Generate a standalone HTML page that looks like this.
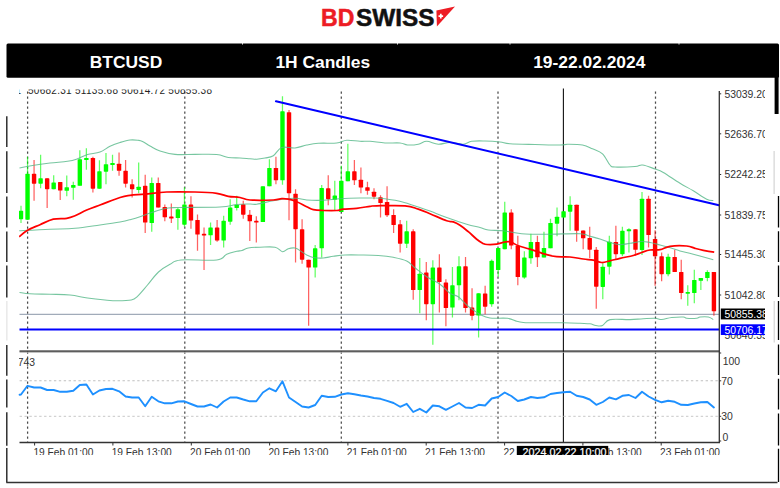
<!DOCTYPE html>
<html><head><meta charset="utf-8"><title>BTCUSD 1H Candles</title>
<style>html,body{margin:0;padding:0;background:#fff}body{width:780px;height:488px;position:relative;overflow:hidden}</style></head>
<body>
<svg width="780" height="488" viewBox="0 0 780 488" style="position:absolute;left:0;top:0">
<defs>
<clipPath id="cm"><rect x="19" y="89.4" width="746" height="262"/></clipPath>
<clipPath id="cb"><rect x="19" y="352" width="746.5" height="103"/></clipPath>
<clipPath id="cc"><rect x="19" y="88" width="700.5" height="264"/></clipPath>
</defs>
<rect x="6.5" y="43.5" width="772.5" height="34.2" rx="1.5" fill="#000"/>
<rect x="242.0" y="43" width="1" height="1.6" fill="#fff" opacity=".8"/>
<rect x="397.0" y="43" width="1" height="1.6" fill="#fff" opacity=".8"/>
<rect x="509.5" y="43" width="1" height="1.6" fill="#fff" opacity=".8"/>
<rect x="678.5" y="43" width="1" height="1.6" fill="#fff" opacity=".8"/>
<g stroke="#000" fill="none">
<path d="M6.8 116.3V147 M6.8 151.3V193 M6.8 196.6V227.5 M6.8 231.6V262 M6.8 265.4V297.4 M6.8 345V375.8 M6.8 379.5V407.5 M6.8 412.3V445.8 M6.8 448V482.5" stroke-width="1.4" stroke="#222"/>
<path d="M6.9 301V340.5" stroke-width="1" stroke="#ddd"/>
<path d="M6.3 482.6H777.5" stroke-width="1.5" stroke="#333"/>
<path d="M776.6 77V114" stroke-width="4"/>
<path d="M774.1 151V194 M774.2 301V342.5" stroke-width="1" stroke="#ccc"/>
<path d="M778.5 196V227.5 M778.5 231.2V262 M778.5 265.5V297 M778.5 301V340 M778.5 344.5V375 M778.5 378.8V409.5 M778.5 413.6V445.5 M778.5 448.8V482" stroke-width="1.3"/>
</g>
<path d="M27.6 91.5V442" stroke="#4a4a4a" stroke-width="1.25" stroke-dasharray="2.3 2.7"/>
<path d="M184.8 91.5V442" stroke="#4a4a4a" stroke-width="1.25" stroke-dasharray="2.3 2.7"/>
<path d="M341.3 91.5V442" stroke="#4a4a4a" stroke-width="1.25" stroke-dasharray="2.3 2.7"/>
<path d="M498.0 91.5V442" stroke="#4a4a4a" stroke-width="1.25" stroke-dasharray="2.3 2.7"/>
<path d="M655.5 91.5V442" stroke="#4a4a4a" stroke-width="1.25" stroke-dasharray="2.3 2.7"/>
<path d="M563.4 88.5V442.5" stroke="#111" stroke-width="1.1"/>
<g clip-path="url(#cc)" fill="none">
<path d="M19.5 314.3H719" stroke="#8a97a8" stroke-width="1"/>
<path d="M21.00 205.8V223.0" stroke="#00ff00" stroke-width="1.25" opacity=".62"/>
<rect x="18.80" y="210.8" width="4.4" height="8.4" fill="#00ff00" rx=".6"/>
<path d="M27.54 156.7V220.0" stroke="#00ff00" stroke-width="1.25" opacity=".62"/>
<rect x="25.34" y="173.8" width="4.4" height="45.9" fill="#00ff00" rx=".6"/>
<path d="M34.07 160.0V200.8" stroke="#ff0000" stroke-width="1.25" opacity=".62"/>
<rect x="31.87" y="173.8" width="4.4" height="9.9" fill="#ff0000" rx=".6"/>
<path d="M40.61 154.7V188.3" stroke="#00ff00" stroke-width="1.25" opacity=".62"/>
<rect x="38.41" y="178.3" width="4.4" height="5.4" fill="#00ff00" rx=".6"/>
<path d="M47.15 178.3V208.0" stroke="#ff0000" stroke-width="1.25" opacity=".62"/>
<rect x="44.95" y="178.3" width="4.4" height="10.9" fill="#ff0000" rx=".6"/>
<path d="M53.69 175.3V189.2" stroke="#00ff00" stroke-width="1.25" opacity=".62"/>
<rect x="51.48" y="182.5" width="4.4" height="6.7" fill="#00ff00" rx=".6"/>
<path d="M60.22 182.0V200.0" stroke="#ff0000" stroke-width="1.25" opacity=".62"/>
<rect x="58.02" y="182.0" width="4.4" height="8.5" fill="#ff0000" rx=".6"/>
<path d="M66.76 175.5V196.3" stroke="#00ff00" stroke-width="1.25" opacity=".62"/>
<rect x="64.56" y="187.2" width="4.4" height="3.6" fill="#00ff00" rx=".6"/>
<path d="M73.30 181.7V199.7" stroke="#00ff00" stroke-width="1.25" opacity=".62"/>
<rect x="71.10" y="185.0" width="4.4" height="2.8" fill="#00ff00" rx=".6"/>
<path d="M79.83 150.3V185.8" stroke="#00ff00" stroke-width="1.25" opacity=".62"/>
<rect x="77.63" y="159.2" width="4.4" height="26.6" fill="#00ff00" rx=".6"/>
<path d="M86.37 148.3V169.7" stroke="#00ff00" stroke-width="1.25" opacity=".62"/>
<rect x="84.17" y="158.0" width="4.4" height="2.0" fill="#00ff00" rx=".6"/>
<path d="M92.91 156.7V192.5" stroke="#ff0000" stroke-width="1.25" opacity=".62"/>
<rect x="90.71" y="158.0" width="4.4" height="30.7" fill="#ff0000" rx=".6"/>
<path d="M99.44 160.3V188.7" stroke="#00ff00" stroke-width="1.25" opacity=".62"/>
<rect x="97.24" y="171.3" width="4.4" height="17.4" fill="#00ff00" rx=".6"/>
<path d="M105.98 153.0V184.2" stroke="#00ff00" stroke-width="1.25" opacity=".62"/>
<rect x="103.78" y="164.2" width="4.4" height="7.5" fill="#00ff00" rx=".6"/>
<path d="M112.52 154.7V170.8" stroke="#00ff00" stroke-width="1.25" opacity=".62"/>
<rect x="110.32" y="163.0" width="4.4" height="2.0" fill="#00ff00" rx=".6"/>
<path d="M119.05 152.5V175.8" stroke="#ff0000" stroke-width="1.25" opacity=".62"/>
<rect x="116.85" y="163.7" width="4.4" height="7.1" fill="#ff0000" rx=".6"/>
<path d="M125.59 160.0V187.5" stroke="#ff0000" stroke-width="1.25" opacity=".62"/>
<rect x="123.39" y="170.8" width="4.4" height="12.9" fill="#ff0000" rx=".6"/>
<path d="M132.13 179.2V197.5" stroke="#ff0000" stroke-width="1.25" opacity=".62"/>
<rect x="129.93" y="184.2" width="4.4" height="5.0" fill="#ff0000" rx=".6"/>
<path d="M138.67 162.5V193.3" stroke="#00ff00" stroke-width="1.25" opacity=".62"/>
<rect x="136.47" y="186.7" width="4.4" height="3.3" fill="#00ff00" rx=".6"/>
<path d="M145.20 174.7V233.0" stroke="#ff0000" stroke-width="1.25" opacity=".62"/>
<rect x="143.00" y="185.8" width="4.4" height="36.7" fill="#ff0000" rx=".6"/>
<path d="M151.74 177.5V231.7" stroke="#00ff00" stroke-width="1.25" opacity=".62"/>
<rect x="149.54" y="183.0" width="4.4" height="40.0" fill="#00ff00" rx=".6"/>
<path d="M158.28 177.5V207.5" stroke="#ff0000" stroke-width="1.25" opacity=".62"/>
<rect x="156.08" y="183.0" width="4.4" height="24.5" fill="#ff0000" rx=".6"/>
<path d="M164.81 204.5V221.3" stroke="#ff0000" stroke-width="1.25" opacity=".62"/>
<rect x="162.61" y="207.0" width="4.4" height="10.3" fill="#ff0000" rx=".6"/>
<path d="M171.35 203.5V223.0" stroke="#ff0000" stroke-width="1.25" opacity=".62"/>
<rect x="169.15" y="216.5" width="4.4" height="2.0" fill="#ff0000" rx=".6"/>
<path d="M177.89 207.7V229.7" stroke="#00ff00" stroke-width="1.25" opacity=".62"/>
<rect x="175.69" y="209.2" width="4.4" height="8.8" fill="#00ff00" rx=".6"/>
<path d="M184.43 187.2V226.7" stroke="#00ff00" stroke-width="1.25" opacity=".62"/>
<rect x="182.23" y="204.5" width="4.4" height="20.2" fill="#00ff00" rx=".6"/>
<path d="M190.96 196.3V228.7" stroke="#ff0000" stroke-width="1.25" opacity=".62"/>
<rect x="188.76" y="204.5" width="4.4" height="16.0" fill="#ff0000" rx=".6"/>
<path d="M197.50 214.5V250.8" stroke="#ff0000" stroke-width="1.25" opacity=".62"/>
<rect x="195.30" y="220.0" width="4.4" height="14.5" fill="#ff0000" rx=".6"/>
<path d="M204.04 227.5V270.0" stroke="#ff0000" stroke-width="1.25" opacity=".62"/>
<rect x="201.84" y="233.8" width="4.4" height="1.7" fill="#ff0000" rx=".6"/>
<path d="M210.57 222.5V245.0" stroke="#00ff00" stroke-width="1.25" opacity=".62"/>
<rect x="208.37" y="227.5" width="4.4" height="7.8" fill="#00ff00" rx=".6"/>
<path d="M217.11 220.0V241.7" stroke="#ff0000" stroke-width="1.25" opacity=".62"/>
<rect x="214.91" y="227.5" width="4.4" height="13.0" fill="#ff0000" rx=".6"/>
<path d="M223.65 215.8V247.5" stroke="#00ff00" stroke-width="1.25" opacity=".62"/>
<rect x="221.45" y="220.8" width="4.4" height="19.7" fill="#00ff00" rx=".6"/>
<path d="M230.18 199.2V224.7" stroke="#00ff00" stroke-width="1.25" opacity=".62"/>
<rect x="227.98" y="207.5" width="4.4" height="14.2" fill="#00ff00" rx=".6"/>
<path d="M236.72 195.8V210.5" stroke="#00ff00" stroke-width="1.25" opacity=".62"/>
<rect x="234.52" y="204.7" width="4.4" height="3.3" fill="#00ff00" rx=".6"/>
<path d="M243.26 200.8V218.7" stroke="#ff0000" stroke-width="1.25" opacity=".62"/>
<rect x="241.06" y="204.2" width="4.4" height="10.5" fill="#ff0000" rx=".6"/>
<path d="M249.79 210.0V241.0" stroke="#ff0000" stroke-width="1.25" opacity=".62"/>
<rect x="247.59" y="214.7" width="4.4" height="6.6" fill="#ff0000" rx=".6"/>
<path d="M256.33 216.3V242.5" stroke="#ff0000" stroke-width="1.25" opacity=".62"/>
<rect x="254.13" y="220.8" width="4.4" height="1.7" fill="#ff0000" rx=".6"/>
<path d="M262.87 186.3V222.0" stroke="#00ff00" stroke-width="1.25" opacity=".62"/>
<rect x="260.67" y="186.3" width="4.4" height="35.7" fill="#00ff00" rx=".6"/>
<path d="M269.41 159.2V186.3" stroke="#00ff00" stroke-width="1.25" opacity=".62"/>
<rect x="267.21" y="168.0" width="4.4" height="18.3" fill="#00ff00" rx=".6"/>
<path d="M275.94 156.7V184.2" stroke="#ff0000" stroke-width="1.25" opacity=".62"/>
<rect x="273.74" y="168.0" width="4.4" height="12.3" fill="#ff0000" rx=".6"/>
<path d="M282.48 96.3V184.7" stroke="#00ff00" stroke-width="1.25" opacity=".62"/>
<rect x="280.28" y="111.3" width="4.4" height="69.0" fill="#00ff00" rx=".6"/>
<path d="M289.02 110.0V220.3" stroke="#ff0000" stroke-width="1.25" opacity=".62"/>
<rect x="286.82" y="112.2" width="4.4" height="81.1" fill="#ff0000" rx=".6"/>
<path d="M295.55 189.2V262.5" stroke="#ff0000" stroke-width="1.25" opacity=".62"/>
<rect x="293.35" y="193.8" width="4.4" height="35.4" fill="#ff0000" rx=".6"/>
<path d="M302.09 219.2V263.7" stroke="#ff0000" stroke-width="1.25" opacity=".62"/>
<rect x="299.89" y="229.2" width="4.4" height="30.5" fill="#ff0000" rx=".6"/>
<path d="M308.63 259.7V325.8" stroke="#ff0000" stroke-width="1.25" opacity=".62"/>
<rect x="306.43" y="259.7" width="4.4" height="7.8" fill="#ff0000" rx=".6"/>
<path d="M315.17 245.0V277.5" stroke="#00ff00" stroke-width="1.25" opacity=".62"/>
<rect x="312.97" y="248.3" width="4.4" height="19.2" fill="#00ff00" rx=".6"/>
<path d="M321.70 185.0V257.5" stroke="#00ff00" stroke-width="1.25" opacity=".62"/>
<rect x="319.50" y="188.0" width="4.4" height="60.3" fill="#00ff00" rx=".6"/>
<path d="M328.24 175.3V205.3" stroke="#ff0000" stroke-width="1.25" opacity=".62"/>
<rect x="326.04" y="188.3" width="4.4" height="10.9" fill="#ff0000" rx=".6"/>
<path d="M334.78 180.8V210.0" stroke="#00ff00" stroke-width="1.25" opacity=".62"/>
<rect x="332.58" y="195.5" width="4.4" height="4.2" fill="#00ff00" rx=".6"/>
<path d="M341.31 165.8V212.0" stroke="#00ff00" stroke-width="1.25" opacity=".62"/>
<rect x="339.11" y="180.8" width="4.4" height="31.2" fill="#00ff00" rx=".6"/>
<path d="M347.85 143.7V181.3" stroke="#00ff00" stroke-width="1.25" opacity=".62"/>
<rect x="345.65" y="171.3" width="4.4" height="10.0" fill="#00ff00" rx=".6"/>
<path d="M354.39 160.0V185.0" stroke="#ff0000" stroke-width="1.25" opacity=".62"/>
<rect x="352.19" y="171.3" width="4.4" height="9.0" fill="#ff0000" rx=".6"/>
<path d="M360.92 167.5V193.3" stroke="#ff0000" stroke-width="1.25" opacity=".62"/>
<rect x="358.72" y="179.7" width="4.4" height="7.8" fill="#ff0000" rx=".6"/>
<path d="M367.46 181.7V194.8" stroke="#ff0000" stroke-width="1.25" opacity=".62"/>
<rect x="365.26" y="187.2" width="4.4" height="3.6" fill="#ff0000" rx=".6"/>
<path d="M374.00 188.3V199.2" stroke="#ff0000" stroke-width="1.25" opacity=".62"/>
<rect x="371.80" y="191.7" width="4.4" height="5.0" fill="#ff0000" rx=".6"/>
<path d="M380.53 195.3V217.5" stroke="#ff0000" stroke-width="1.25" opacity=".62"/>
<rect x="378.33" y="197.2" width="4.4" height="5.8" fill="#ff0000" rx=".6"/>
<path d="M387.07 186.3V217.0" stroke="#ff0000" stroke-width="1.25" opacity=".62"/>
<rect x="384.87" y="202.0" width="4.4" height="13.3" fill="#ff0000" rx=".6"/>
<path d="M393.61 209.2V233.0" stroke="#ff0000" stroke-width="1.25" opacity=".62"/>
<rect x="391.41" y="215.0" width="4.4" height="10.0" fill="#ff0000" rx=".6"/>
<path d="M400.15 220.0V252.5" stroke="#ff0000" stroke-width="1.25" opacity=".62"/>
<rect x="397.95" y="224.2" width="4.4" height="19.5" fill="#ff0000" rx=".6"/>
<path d="M406.68 220.8V248.0" stroke="#00ff00" stroke-width="1.25" opacity=".62"/>
<rect x="404.48" y="231.3" width="4.4" height="12.4" fill="#00ff00" rx=".6"/>
<path d="M413.22 229.2V299.7" stroke="#ff0000" stroke-width="1.25" opacity=".62"/>
<rect x="411.02" y="231.3" width="4.4" height="58.7" fill="#ff0000" rx=".6"/>
<path d="M419.76 258.0V313.3" stroke="#00ff00" stroke-width="1.25" opacity=".62"/>
<rect x="417.56" y="273.7" width="4.4" height="16.3" fill="#00ff00" rx=".6"/>
<path d="M426.29 262.0V320.3" stroke="#ff0000" stroke-width="1.25" opacity=".62"/>
<rect x="424.09" y="272.5" width="4.4" height="31.7" fill="#ff0000" rx=".6"/>
<path d="M432.83 260.3V344.7" stroke="#00ff00" stroke-width="1.25" opacity=".62"/>
<rect x="430.63" y="267.5" width="4.4" height="36.7" fill="#00ff00" rx=".6"/>
<path d="M439.37 254.2V312.5" stroke="#ff0000" stroke-width="1.25" opacity=".62"/>
<rect x="437.17" y="267.5" width="4.4" height="14.5" fill="#ff0000" rx=".6"/>
<path d="M445.90 279.2V326.3" stroke="#ff0000" stroke-width="1.25" opacity=".62"/>
<rect x="443.70" y="282.5" width="4.4" height="25.5" fill="#ff0000" rx=".6"/>
<path d="M452.44 267.0V317.5" stroke="#00ff00" stroke-width="1.25" opacity=".62"/>
<rect x="450.24" y="285.3" width="4.4" height="22.2" fill="#00ff00" rx=".6"/>
<path d="M458.98 256.3V300.3" stroke="#00ff00" stroke-width="1.25" opacity=".62"/>
<rect x="456.78" y="266.3" width="4.4" height="19.0" fill="#00ff00" rx=".6"/>
<path d="M465.52 257.0V312.5" stroke="#ff0000" stroke-width="1.25" opacity=".62"/>
<rect x="463.32" y="266.3" width="4.4" height="41.7" fill="#ff0000" rx=".6"/>
<path d="M472.05 288.3V320.3" stroke="#ff0000" stroke-width="1.25" opacity=".62"/>
<rect x="469.85" y="307.5" width="4.4" height="8.3" fill="#ff0000" rx=".6"/>
<path d="M478.59 293.3V337.5" stroke="#00ff00" stroke-width="1.25" opacity=".62"/>
<rect x="476.39" y="293.3" width="4.4" height="22.2" fill="#00ff00" rx=".6"/>
<path d="M485.13 285.8V314.2" stroke="#ff0000" stroke-width="1.25" opacity=".62"/>
<rect x="482.93" y="293.5" width="4.4" height="13.2" fill="#ff0000" rx=".6"/>
<path d="M491.66 259.5V306.7" stroke="#00ff00" stroke-width="1.25" opacity=".62"/>
<rect x="489.46" y="260.8" width="4.4" height="43.4" fill="#00ff00" rx=".6"/>
<path d="M498.20 248.0V276.7" stroke="#00ff00" stroke-width="1.25" opacity=".62"/>
<rect x="496.00" y="248.0" width="4.4" height="22.0" fill="#00ff00" rx=".6"/>
<path d="M504.74 201.7V249.2" stroke="#00ff00" stroke-width="1.25" opacity=".62"/>
<rect x="502.54" y="212.5" width="4.4" height="36.7" fill="#00ff00" rx=".6"/>
<path d="M511.27 209.2V249.2" stroke="#ff0000" stroke-width="1.25" opacity=".62"/>
<rect x="509.07" y="212.5" width="4.4" height="33.0" fill="#ff0000" rx=".6"/>
<path d="M517.81 235.8V285.3" stroke="#ff0000" stroke-width="1.25" opacity=".62"/>
<rect x="515.61" y="245.8" width="4.4" height="31.2" fill="#ff0000" rx=".6"/>
<path d="M524.35 251.3V278.7" stroke="#00ff00" stroke-width="1.25" opacity=".62"/>
<rect x="522.15" y="257.5" width="4.4" height="20.0" fill="#00ff00" rx=".6"/>
<path d="M530.89 233.7V263.7" stroke="#00ff00" stroke-width="1.25" opacity=".62"/>
<rect x="528.69" y="242.0" width="4.4" height="16.3" fill="#00ff00" rx=".6"/>
<path d="M537.42 235.8V267.0" stroke="#ff0000" stroke-width="1.25" opacity=".62"/>
<rect x="535.22" y="242.0" width="4.4" height="15.3" fill="#ff0000" rx=".6"/>
<path d="M543.96 231.7V257.5" stroke="#00ff00" stroke-width="1.25" opacity=".62"/>
<rect x="541.76" y="248.0" width="4.4" height="9.5" fill="#00ff00" rx=".6"/>
<path d="M550.50 218.7V248.3" stroke="#00ff00" stroke-width="1.25" opacity=".62"/>
<rect x="548.30" y="223.0" width="4.4" height="25.3" fill="#00ff00" rx=".6"/>
<path d="M557.03 207.5V236.3" stroke="#00ff00" stroke-width="1.25" opacity=".62"/>
<rect x="554.83" y="216.7" width="4.4" height="7.0" fill="#00ff00" rx=".6"/>
<path d="M563.57 211.3V217.5" stroke="#00ff00" stroke-width="1.25" opacity=".62"/>
<rect x="561.37" y="211.3" width="4.4" height="6.2" fill="#00ff00" rx=".6"/>
<path d="M570.11 196.3V230.8" stroke="#00ff00" stroke-width="1.25" opacity=".62"/>
<rect x="567.91" y="204.7" width="4.4" height="7.0" fill="#00ff00" rx=".6"/>
<path d="M576.64 204.7V241.7" stroke="#ff0000" stroke-width="1.25" opacity=".62"/>
<rect x="574.44" y="204.7" width="4.4" height="26.1" fill="#ff0000" rx=".6"/>
<path d="M583.18 230.5V249.2" stroke="#ff0000" stroke-width="1.25" opacity=".62"/>
<rect x="580.98" y="230.5" width="4.4" height="7.8" fill="#ff0000" rx=".6"/>
<path d="M589.72 226.7V258.3" stroke="#ff0000" stroke-width="1.25" opacity=".62"/>
<rect x="587.52" y="238.0" width="4.4" height="11.7" fill="#ff0000" rx=".6"/>
<path d="M596.26 247.0V308.7" stroke="#ff0000" stroke-width="1.25" opacity=".62"/>
<rect x="594.06" y="249.7" width="4.4" height="37.0" fill="#ff0000" rx=".6"/>
<path d="M602.79 263.3V299.2" stroke="#00ff00" stroke-width="1.25" opacity=".62"/>
<rect x="600.59" y="266.7" width="4.4" height="20.2" fill="#00ff00" rx=".6"/>
<path d="M609.33 235.8V274.5" stroke="#00ff00" stroke-width="1.25" opacity=".62"/>
<rect x="607.13" y="241.7" width="4.4" height="25.0" fill="#00ff00" rx=".6"/>
<path d="M615.87 225.8V259.2" stroke="#ff0000" stroke-width="1.25" opacity=".62"/>
<rect x="613.67" y="242.0" width="4.4" height="12.2" fill="#ff0000" rx=".6"/>
<path d="M622.40 226.7V256.3" stroke="#00ff00" stroke-width="1.25" opacity=".62"/>
<rect x="620.20" y="230.8" width="4.4" height="23.4" fill="#00ff00" rx=".6"/>
<path d="M628.94 228.3V252.5" stroke="#00ff00" stroke-width="1.25" opacity=".62"/>
<rect x="626.74" y="229.2" width="4.4" height="2.1" fill="#00ff00" rx=".6"/>
<path d="M635.48 229.2V255.8" stroke="#ff0000" stroke-width="1.25" opacity=".62"/>
<rect x="633.28" y="229.2" width="4.4" height="20.6" fill="#ff0000" rx=".6"/>
<path d="M642.01 192.0V255.0" stroke="#00ff00" stroke-width="1.25" opacity=".62"/>
<rect x="639.81" y="198.7" width="4.4" height="51.3" fill="#00ff00" rx=".6"/>
<path d="M648.55 195.8V247.5" stroke="#ff0000" stroke-width="1.25" opacity=".62"/>
<rect x="646.35" y="198.7" width="4.4" height="36.3" fill="#ff0000" rx=".6"/>
<path d="M655.09 230.3V285.8" stroke="#ff0000" stroke-width="1.25" opacity=".62"/>
<rect x="652.89" y="239.0" width="4.4" height="17.3" fill="#ff0000" rx=".6"/>
<path d="M661.63 252.5V281.3" stroke="#ff0000" stroke-width="1.25" opacity=".62"/>
<rect x="659.43" y="256.3" width="4.4" height="17.9" fill="#ff0000" rx=".6"/>
<path d="M668.16 253.7V276.3" stroke="#00ff00" stroke-width="1.25" opacity=".62"/>
<rect x="665.96" y="256.7" width="4.4" height="17.5" fill="#00ff00" rx=".6"/>
<path d="M674.70 249.7V272.0" stroke="#ff0000" stroke-width="1.25" opacity=".62"/>
<rect x="672.50" y="257.0" width="4.4" height="15.0" fill="#ff0000" rx=".6"/>
<path d="M681.24 259.7V299.2" stroke="#ff0000" stroke-width="1.25" opacity=".62"/>
<rect x="679.04" y="272.0" width="4.4" height="21.0" fill="#ff0000" rx=".6"/>
<path d="M687.77 285.3V305.8" stroke="#00ff00" stroke-width="1.25" opacity=".62"/>
<rect x="685.57" y="292.0" width="4.4" height="1.7" fill="#00ff00" rx=".6"/>
<path d="M694.31 269.7V303.3" stroke="#00ff00" stroke-width="1.25" opacity=".62"/>
<rect x="692.11" y="280.0" width="4.4" height="13.0" fill="#00ff00" rx=".6"/>
<path d="M700.85 278.0V290.0" stroke="#00ff00" stroke-width="1.25" opacity=".62"/>
<rect x="698.65" y="278.0" width="4.4" height="2.8" fill="#00ff00" rx=".6"/>
<path d="M707.38 270.3V281.3" stroke="#00ff00" stroke-width="1.25" opacity=".62"/>
<rect x="705.18" y="272.0" width="4.4" height="6.0" fill="#00ff00" rx=".6"/>
<path d="M713.92 272.0V315.8" stroke="#ff0000" stroke-width="1.25" opacity=".62"/>
<rect x="711.72" y="272.0" width="4.4" height="39.3" fill="#ff0000" rx=".6"/>
<path d="M19.5 168.0C21.8 167.6 27.0 166.4 32.5 165.5C38.0 164.6 43.7 163.8 50.0 163.0C56.3 162.2 62.5 162.1 67.5 161.3C72.5 160.5 73.9 160.0 77.5 158.8C81.1 157.6 83.5 155.7 87.5 154.5C91.5 153.3 96.0 153.5 100.0 152.0C104.0 150.5 106.4 148.0 110.0 146.3C113.6 144.6 116.4 143.6 120.0 142.5C123.6 141.4 126.8 140.4 130.0 140.0C133.2 139.6 135.8 140.0 138.0 140.3C140.2 140.6 140.3 140.5 142.5 141.5C144.7 142.5 146.8 144.3 150.0 146.0C153.2 147.7 155.5 149.5 160.0 151.0C164.5 152.5 168.7 153.8 175.0 154.4C181.3 155.0 187.5 154.4 195.0 154.4C202.5 154.4 210.7 153.9 216.7 154.5C222.7 155.1 224.1 156.9 228.3 157.5C232.5 158.1 236.1 157.8 240.0 158.0C243.9 158.2 247.0 158.5 250.0 158.7C253.0 158.9 254.0 159.3 256.7 159.2C259.4 159.1 262.0 158.6 265.0 158.0C268.0 157.4 270.3 157.7 273.3 155.8C276.3 153.9 277.8 148.9 281.7 147.5C285.6 146.1 290.5 148.4 295.0 148.0C299.5 147.6 302.5 145.8 306.7 145.0C310.9 144.2 312.9 143.7 318.3 143.3C323.7 142.9 331.6 143.5 336.7 143.0C341.8 142.5 342.5 140.6 346.7 140.3C350.9 140.0 355.8 141.1 360.0 141.3C364.2 141.5 365.5 141.0 370.0 141.3C374.5 141.6 379.6 142.7 385.0 143.0C390.4 143.3 395.9 142.6 400.0 143.0C404.1 143.4 404.2 144.8 407.5 145.0C410.8 145.2 414.8 144.9 418.3 144.2C421.8 143.5 423.1 141.3 426.7 141.3C430.3 141.3 434.1 144.0 438.3 144.2C442.5 144.4 445.5 142.5 450.0 142.5C454.5 142.5 459.4 144.4 463.3 144.2C467.2 144.0 467.8 141.9 471.7 141.3C475.6 140.7 479.9 140.9 485.0 141.0C490.1 141.1 495.5 141.5 500.0 142.0C504.5 142.5 503.7 143.4 510.0 143.8C516.3 144.2 526.0 144.3 535.0 144.5C544.0 144.7 554.1 145.0 560.0 145.0C565.9 145.0 563.5 144.3 567.5 144.3C571.5 144.3 578.0 144.2 582.5 145.0C587.0 145.8 588.9 147.2 592.5 148.8C596.1 150.4 599.4 150.9 602.5 153.8C605.6 156.7 607.8 162.6 610.0 165.0C612.2 167.4 610.5 166.7 615.0 167.0C619.5 167.3 630.0 166.9 635.0 166.5C640.0 166.1 638.9 164.6 642.5 165.0C646.1 165.4 651.3 167.7 655.0 169.0C658.7 170.3 658.8 169.9 663.3 172.5C667.8 175.1 674.6 180.0 680.0 183.3C685.4 186.6 688.5 187.9 693.3 190.8C698.1 193.7 703.1 197.5 706.7 199.2C710.3 200.9 712.1 200.3 713.3 200.5" stroke="#55b888" stroke-width="1.1" opacity=".8" stroke-linejoin="round"/>
<path d="M19.5 292.5C21.4 292.7 24.5 293.5 30.0 293.8C35.5 294.1 42.8 294.1 50.0 294.3C57.2 294.5 63.2 294.3 70.0 295.0C76.8 295.7 81.2 297.1 87.5 298.0C93.8 298.9 99.6 299.5 105.0 300.0C110.4 300.5 112.8 300.8 117.5 300.8C122.2 300.8 127.7 300.8 131.3 300.0C134.9 299.2 134.6 299.0 137.5 296.3C140.4 293.6 143.7 289.4 147.5 285.0C151.3 280.6 154.4 275.7 158.5 272.0C162.6 268.3 165.9 266.5 170.0 264.3C174.1 262.1 172.6 260.8 181.0 260.0C189.4 259.2 208.5 261.0 216.7 260.0C224.9 259.0 223.1 255.8 226.7 254.2C230.3 252.6 233.9 252.0 236.7 251.3C239.5 250.6 239.9 251.1 242.0 250.5C244.1 249.9 245.1 248.6 248.3 248.0C251.5 247.4 255.2 247.3 260.0 247.2C264.8 247.1 270.9 246.4 275.0 247.2C279.1 248.0 280.1 251.4 282.5 251.7C284.9 252.0 286.1 249.4 288.3 248.7C290.6 248.0 292.6 247.5 295.0 248.0C297.4 248.5 299.6 250.4 301.7 251.7C303.8 253.0 304.6 254.0 306.7 255.0C308.8 256.0 310.3 257.0 313.3 257.5C316.3 258.0 319.7 258.2 323.3 258.0C326.9 257.8 329.4 256.8 333.3 256.3C337.2 255.8 340.2 255.2 345.0 255.0C349.8 254.8 354.0 254.9 360.0 255.0C366.0 255.1 372.3 255.1 378.3 255.5C384.3 255.9 388.2 256.3 393.3 257.3C398.4 258.3 402.8 259.1 406.7 261.0C410.6 262.9 411.4 265.0 415.0 267.8C418.6 270.6 422.2 273.7 426.7 276.7C431.2 279.7 435.8 281.2 440.0 284.2C444.2 287.2 446.7 291.1 450.0 293.3C453.3 295.6 455.3 294.6 458.3 296.7C461.3 298.8 464.0 302.6 466.7 305.0C469.4 307.4 470.9 308.3 473.3 310.0C475.7 311.7 477.0 313.1 480.0 314.5C483.0 315.9 485.1 317.3 490.0 318.0C494.9 318.7 502.7 317.7 507.5 318.3C512.3 318.9 513.9 320.4 516.7 321.2C519.5 322.0 520.3 322.2 523.3 322.5C526.3 322.8 526.1 322.7 533.3 322.8C540.5 322.9 554.9 322.7 563.3 322.8C571.7 322.9 575.2 323.1 580.0 323.3C584.8 323.5 587.2 323.4 590.0 323.8C592.8 324.2 593.5 325.2 595.8 325.5C598.0 325.8 599.9 326.6 602.5 325.5C605.1 324.4 605.0 320.7 610.0 319.6C615.0 318.5 624.0 319.8 630.0 319.6C636.0 319.4 638.8 318.9 643.3 318.7C647.8 318.5 651.7 318.2 655.0 318.3C658.3 318.4 658.7 319.6 661.7 319.5C664.7 319.4 667.8 317.9 671.7 317.5C675.6 317.1 680.6 316.9 683.3 317.0C686.0 317.1 684.3 318.1 686.7 318.3C689.1 318.5 694.3 318.5 696.7 318.3C699.1 318.1 697.9 317.2 700.0 317.0C702.1 316.8 705.9 316.6 708.3 317.0C710.7 317.4 712.4 319.1 713.3 319.5" stroke="#55b888" stroke-width="1.1" opacity=".8" stroke-linejoin="round"/>
<path d="M19.2 230.8C24.7 230.5 40.0 229.6 50.0 229.2C60.0 228.8 66.0 229.1 75.0 228.3C84.0 227.5 91.9 226.1 100.0 225.0C108.1 223.9 114.6 223.0 120.0 222.0C125.4 221.0 126.4 220.7 130.0 219.7C133.6 218.7 136.1 218.0 140.0 216.7C143.9 215.4 146.9 214.0 151.7 212.5C156.5 211.0 161.9 209.2 166.7 208.3C171.5 207.4 168.7 207.7 178.3 207.5C187.9 207.3 209.5 207.5 220.0 207.0C230.5 206.5 231.3 205.0 236.7 204.5C242.1 204.0 246.4 204.1 250.0 204.0C253.6 203.9 252.5 204.8 256.7 204.2C260.9 203.6 267.9 201.8 273.3 200.8C278.7 199.8 282.5 199.1 286.7 198.7C290.9 198.2 293.1 198.1 296.7 198.3C300.3 198.5 301.9 199.6 306.7 200.0C311.5 200.4 317.3 200.5 323.3 200.3C329.3 200.1 333.4 199.1 340.0 198.7C346.6 198.3 354.0 198.1 360.0 198.0C366.0 197.9 368.8 197.9 373.3 198.0C377.8 198.1 379.9 198.1 385.0 198.8C390.1 199.5 395.7 200.2 401.7 201.7C407.7 203.2 413.2 205.3 418.3 207.0C423.4 208.7 424.9 209.1 430.0 211.0C435.1 212.9 440.1 215.1 446.7 217.5C453.3 219.9 460.7 222.4 466.7 224.2C472.7 226.0 476.1 226.5 480.0 227.5C483.9 228.5 484.1 229.4 488.3 230.0C492.5 230.6 497.3 230.1 503.3 230.8C509.3 231.5 513.9 233.1 521.7 233.7C529.5 234.3 536.2 234.2 546.7 234.2C557.2 234.2 572.5 233.4 580.0 233.7C587.5 234.0 584.7 234.8 588.3 235.8C591.9 236.8 596.1 237.8 600.0 239.0C603.9 240.2 606.4 241.5 610.0 242.5C613.6 243.5 616.4 244.5 620.0 244.6C623.6 244.7 626.1 243.9 630.0 243.3C633.9 242.7 638.1 241.6 641.7 241.5C645.3 241.4 646.7 241.9 650.0 242.5C653.3 243.1 655.8 243.9 660.0 245.0C664.2 246.1 669.7 247.6 673.3 248.7C676.9 249.8 676.4 250.0 680.0 251.0C683.6 252.0 687.3 252.6 693.3 254.2C699.3 255.8 709.7 258.7 713.3 259.7" stroke="#55b888" stroke-width="1.1" opacity=".8" stroke-linejoin="round"/>
<path d="M19.2 236.7C20.7 235.5 23.8 232.5 27.5 230.3C31.2 228.1 35.4 226.7 40.0 224.7C44.6 222.7 48.5 220.4 53.3 219.2C58.1 218.0 62.8 218.9 66.7 218.3C70.6 217.7 71.4 217.3 75.0 215.8C78.6 214.3 82.2 211.9 86.7 210.0C91.2 208.1 94.0 207.2 100.0 205.0C106.0 202.8 114.6 199.2 120.0 197.5C125.4 195.8 125.5 196.0 130.0 195.4C134.5 194.8 138.4 194.8 145.0 194.2C151.6 193.6 157.7 192.4 166.7 192.0C175.7 191.6 186.0 191.8 195.0 192.0C204.0 192.2 210.7 192.5 216.7 193.3C222.7 194.1 224.1 195.5 228.3 196.3C232.5 197.1 236.1 196.8 240.0 197.5C243.9 198.2 244.0 199.6 250.0 200.0C256.0 200.4 267.6 200.2 273.3 200.0C279.0 199.8 279.0 198.8 281.7 198.7C284.4 198.6 285.6 198.7 288.3 199.2C291.0 199.7 293.4 200.3 296.7 201.7C300.0 203.0 303.7 205.3 306.7 206.7C309.7 208.1 310.3 209.0 313.3 209.7C316.3 210.4 319.1 210.4 323.3 210.5C327.5 210.6 333.1 210.7 336.7 210.5C340.3 210.3 339.7 209.6 343.3 209.2C346.9 208.8 351.9 208.8 356.7 208.3C361.5 207.8 366.4 206.8 370.0 206.3C373.6 205.9 370.4 205.9 376.7 205.8C383.0 205.7 397.5 205.2 405.0 205.8C412.5 206.4 413.8 207.8 418.3 209.2C422.8 210.6 424.9 211.6 430.0 213.7C435.1 215.8 442.5 219.3 446.7 220.8C450.9 222.3 450.9 221.0 453.3 221.8C455.7 222.6 457.3 223.4 460.0 225.2C462.7 227.0 465.3 229.2 468.3 231.7C471.3 234.2 474.1 237.1 476.7 239.2C479.3 241.3 481.1 242.4 483.0 243.4C484.9 244.4 484.5 244.4 487.0 244.5C489.5 244.6 493.5 244.6 496.7 244.2C499.9 243.8 502.5 242.4 505.0 242.0C507.5 241.6 508.4 241.3 510.8 242.0C513.2 242.7 514.8 244.5 518.3 245.8C521.8 247.1 524.9 247.6 530.0 249.2C535.1 250.8 541.9 253.3 546.7 254.7C551.5 256.1 552.5 256.3 556.7 256.7C560.9 257.1 565.2 256.6 570.0 257.0C574.8 257.4 579.1 258.4 583.3 259.0C587.5 259.6 590.0 259.6 593.3 260.2C596.6 260.8 598.7 262.4 601.7 262.5C604.7 262.6 606.7 261.6 610.0 260.8C613.3 260.0 615.8 259.3 620.0 258.3C624.2 257.3 629.4 256.5 633.3 255.5C637.2 254.5 638.7 253.5 641.7 252.5C644.7 251.5 646.7 250.5 650.0 250.0C653.3 249.5 656.4 250.4 660.0 249.7C663.6 249.0 665.2 247.0 670.0 246.3C674.8 245.6 682.2 245.6 686.7 246.0C691.2 246.4 692.0 247.5 695.0 248.3C698.0 249.1 699.8 249.6 703.3 250.3C706.8 251.0 712.2 251.9 714.2 252.2" stroke="#ff0000" stroke-width="1.75" stroke-linejoin="round"/>
<path d="M19.5 329.4H719" stroke="#0000ff" stroke-width="2"/>
<path d="M276 101.3L719 205.3" stroke="#0000ff" stroke-width="2.1" stroke-linecap="round"/>
</g>
<path d="M19.5 351.2H719.5" stroke="#111" stroke-width="1.3"/>
<path d="M19.5 352.3H719.5" stroke="#aaa" stroke-width="0.9"/>
<path d="M719.3 91V442.8" stroke="#333" stroke-width="1.3"/>
<path d="M19.5 442.5H720" stroke="#333" stroke-width="1.3"/>
<path d="M719.5 93.8h1.7" stroke="#333" stroke-width="1"/>
<path d="M719.5 133.8h1.7" stroke="#333" stroke-width="1"/>
<path d="M719.5 174.5h1.7" stroke="#333" stroke-width="1"/>
<path d="M719.5 215h1.7" stroke="#333" stroke-width="1"/>
<path d="M719.5 254.5h1.7" stroke="#333" stroke-width="1"/>
<path d="M719.5 295h1.7" stroke="#333" stroke-width="1"/>
<path d="M719.5 353h1.7" stroke="#333" stroke-width="1"/>
<path d="M719.5 380.8h1.7" stroke="#333" stroke-width="1"/>
<path d="M719.5 416.3h1.7" stroke="#333" stroke-width="1"/>
<path d="M719.5 441h1.7" stroke="#333" stroke-width="1"/>
<path d="M34.6 442.5v3" stroke="#333" stroke-width="1"/>
<path d="M112.9 442.5v3" stroke="#333" stroke-width="1"/>
<path d="M191.3 442.5v3" stroke="#333" stroke-width="1"/>
<path d="M269.6 442.5v3" stroke="#333" stroke-width="1"/>
<path d="M347.9 442.5v3" stroke="#333" stroke-width="1"/>
<path d="M426.2 442.5v3" stroke="#333" stroke-width="1"/>
<path d="M504.6 442.5v3" stroke="#333" stroke-width="1"/>
<path d="M582.9 442.5v3" stroke="#333" stroke-width="1"/>
<path d="M661.2 442.5v3" stroke="#333" stroke-width="1"/>
<path d="M19.6 380.8H719" stroke="#c0c0c0" stroke-width="1.1" stroke-dasharray="2.4 2.5"/>
<path d="M19.6 416.4H719" stroke="#d2d2d2" stroke-width="1.1" stroke-dasharray="2.4 2.5"/>
<polyline points="19.6,394.8 21.0,394.5 27.5,385.8 34.1,387.5 40.6,387.5 47.1,390.0 53.7,390.0 60.2,391.8 66.8,391.8 73.3,390.8 79.8,385.0 86.4,384.5 92.9,394.5 99.4,390.5 106.0,389.0 112.5,388.8 119.1,391.3 125.6,396.5 132.1,397.5 138.7,397.5 145.2,406.3 151.7,396.8 158.3,401.3 164.8,403.3 171.4,403.3 177.9,401.5 184.4,401.3 191.0,404.0 197.5,406.5 204.0,406.5 210.6,404.5 217.1,407.5 223.6,401.5 230.2,397.5 236.7,397.5 243.3,399.5 249.8,401.3 256.3,401.3 262.9,392.5 269.4,388.3 275.9,391.3 282.5,381.3 289.0,397.5 295.6,402.0 302.1,406.5 308.6,407.5 315.2,405.0 321.7,395.8 328.2,397.0 334.8,396.8 341.3,394.5 347.9,393.3 354.4,394.3 360.9,395.5 367.5,396.5 374.0,398.0 380.5,398.8 387.1,400.8 393.6,403.0 400.1,406.8 406.7,403.8 413.2,412.0 419.8,408.8 426.3,412.5 432.8,405.5 439.4,406.3 445.9,409.8 452.4,406.5 459.0,403.0 465.5,407.5 472.1,408.0 478.6,404.8 485.1,405.5 491.7,398.5 498.2,397.0 504.7,392.5 511.3,396.0 517.8,401.0 524.3,399.5 530.9,397.0 537.4,398.0 544.0,397.3 550.5,394.0 557.0,393.0 563.6,392.3 570.1,391.8 576.6,395.8 583.2,397.0 589.7,399.5 596.3,404.8 602.8,402.0 609.3,397.5 615.9,399.3 622.4,395.8 628.9,395.0 635.5,398.0 642.0,391.8 648.6,396.5 655.1,399.8 661.6,402.3 668.2,400.8 674.7,401.8 681.2,404.8 687.8,405.0 694.3,403.5 700.8,402.3 707.4,402.0 713.9,407.5" fill="none" stroke="#1e90ff" stroke-width="1.9" stroke-linejoin="round" stroke-linecap="round"/>
<g font-family="Liberation Sans, Arial, sans-serif" font-size="10.9" fill="#333">
<g clip-path="url(#cm)">
<text transform="translate(724.4 97.7) scale(0.957 1)" >53039.20</text>
<text transform="translate(724.4 137.7) scale(0.957 1)" >52636.70</text>
<text transform="translate(724.4 178.4) scale(0.957 1)" >52242.25</text>
<text transform="translate(724.4 218.9) scale(0.957 1)" >51839.75</text>
<text transform="translate(724.4 258.4) scale(0.957 1)" >51445.30</text>
<text transform="translate(724.4 298.9) scale(0.957 1)" >51042.80</text>
<text transform="translate(724.4 338.7) scale(0.957 1)" >50640.35</text>
<rect x="720.8" y="308.5" width="46" height="10.9" fill="#000"/>
<text transform="translate(724.4 318.0) scale(0.957 1)" fill="#fff">50855.38</text>
<rect x="720.8" y="324.3" width="46" height="10.7" fill="#0000ff"/>
<text transform="translate(724.4 333.9) scale(0.957 1)" fill="#fff">50706.17</text>
<text x="28" y="93.7" font-size="10" textLength="184" fill="#222">50682.31 51135.68 50614.72 50855.38</text>
<text x="15.4" y="93.7" font-size="10" fill="#222">1</text>
</g>
<g clip-path="url(#cb)">
<text transform="translate(11.9 365.6) scale(0.957 1)" >1743</text>
<text transform="translate(722.7 364.6) scale(0.957 1)" >100</text>
<text transform="translate(721.3 385.1) scale(0.957 1)" >70</text>
<text transform="translate(721.2 420.2) scale(0.957 1)" >30</text>
<text transform="translate(722.5 440.6) scale(0.957 1)" >0</text>
<text transform="translate(33.4 456.2) scale(0.935 1)" >19 Feb 01:00</text>
<text transform="translate(111.7 456.2) scale(0.935 1)" >19 Feb 13:00</text>
<text transform="translate(190.1 456.2) scale(0.935 1)" >20 Feb 01:00</text>
<text transform="translate(268.4 456.2) scale(0.935 1)" >20 Feb 13:00</text>
<text transform="translate(346.7 456.2) scale(0.935 1)" >21 Feb 01:00</text>
<text transform="translate(425.0 456.2) scale(0.935 1)" >21 Feb 13:00</text>
<text transform="translate(503.4 456.2) scale(0.935 1)" >22 Feb 01:00</text>
<text transform="translate(581.7 456.2) scale(0.935 1)" >22 Feb 13:00</text>
<text transform="translate(660.0 456.2) scale(0.935 1)" >23 Feb 01:00</text>
<rect x="516.8" y="445.9" width="91.4" height="10" fill="#000"/>
<text x="522.6" y="456.2" fill="#fff" stroke="#fff" stroke-width=".2" textLength="84" lengthAdjust="spacingAndGlyphs">2024.02.22 10:00</text>
</g>
</g>
<g font-family="Liberation Sans, Arial, sans-serif" font-size="17.4" font-weight="bold" fill="#fff" text-anchor="middle">
<text x="126" y="68.2">BTCUSD</text>
<text x="322.8" y="68.2">1H Candles</text>
<text x="589.3" y="68.2">19-22.02.2024</text>
</g>
<g font-family="Liberation Sans, Arial, sans-serif" font-size="23" font-weight="bold">
<text x="321" y="25.7" fill="#ed1c24" stroke="#ed1c24" stroke-width=".5" textLength="33.3" lengthAdjust="spacingAndGlyphs">BD</text>
<text x="356" y="25.7" fill="#111" stroke="#111" stroke-width=".5" textLength="78.4" lengthAdjust="spacingAndGlyphs">SWISS</text>
</g>
<path d="M436.4 10.4L455 6.4L436.9 26.5Z" fill="#ed1c24"/>
<path d="M438.5 16.1h4.6M440.8 13.8v4.6" stroke="#fff" stroke-width="1.7"/>
</svg>
</body></html>
